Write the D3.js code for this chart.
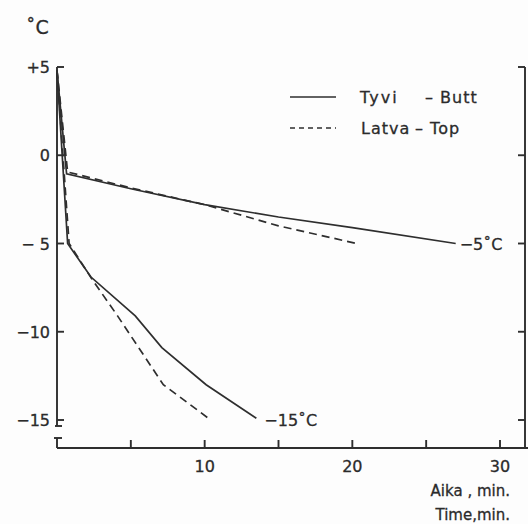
<!DOCTYPE html>
<head>
<meta charset="utf-8">
<style>
body { margin: 0; background: #fdfdfd; }
svg { display: block; }
text {
  font-family: "DejaVu Sans", sans-serif;
  fill: #2b2b2b;
  stroke: #2b2b2b;
  stroke-width: 0.3px;
}
.curve {
  fill: none;
  stroke: #2e2e2e;
  stroke-width: 1.7px;
}
.axis line, .axis path {
  stroke: #2e2e2e;
  stroke-width: 1.9px;
  fill: none;
}
</style>
</head>
<body>
<svg width="528" height="524"></svg>
<script src="https://d3js.org/d3.v7.min.js"></script>
<script>
// minutes / degrees
var butt5 = [[0, 4.8], [0.65, -1.05], [5, -1.9], [10, -2.8], [15, -3.5], [20, -4.1], [27, -5.0]];
var top5 = [[0, 4.8], [0.72, -0.95], [5, -1.85], [10, -2.8], [15, -4.0], [20.3, -5.0]];
var butt15 = [[0, 4.8], [0.72, -5.0], [2.3, -6.9], [5.3, -9.1], [7.1, -10.9], [10.1, -13.0], [13.5, -14.9]];
var top15 = [[0, 4.8], [0.82, -5.0], [2.35, -7.0], [4.1, -9.1], [7.2, -13.0], [10.25, -14.9]];

var yTicks = [5, 0, -5, -10, -15];
var yTickLabels = ["+5", "0", "\u2212 5", "\u221210", "\u221215"];
var xTicks = [5, 10, 15, 20, 25, 30];
var xTickLabels = {10: "10", 20: "20", 30: "30"};

var svg = d3.select("svg");

var x = d3.scaleLinear().domain([0, 30]).range([57, 500]);
var y = d3.scaleLinear().domain([-15, 5]).range([420, 67]);

var ax = svg.append("g").attr("class", "axis");

// left axis with top cap and inward ticks
ax.append("line").attr("x1", x(0)).attr("x2", x(0)).attr("y1", y(5)).attr("y2", y(-15) + 6);
ax.append("line").attr("x1", x(0)).attr("x2", x(0) + 7).attr("y1", y(5)).attr("y2", y(5));
ax.selectAll(".yt").data(yTicks.slice(1)).enter().append("line")
  .attr("x1", x(0)).attr("x2", x(0) + 7)
  .attr("y1", function(d) { return y(d); }).attr("y2", function(d) { return y(d); });
ax.append("line").attr("x1", x(0) - 2).attr("x2", x(0) + 5).attr("y1", y(-15) + 6).attr("y2", y(-15) + 6);

// right frame line
var xr = 525;
ax.append("line").attr("x1", xr).attr("x2", xr).attr("y1", y(5)).attr("y2", 448);
ax.append("line").attr("x1", xr - 7).attr("x2", xr).attr("y1", y(5)).attr("y2", y(5));
ax.selectAll(".yr").data(yTicks.slice(1)).enter().append("line")
  .attr("x1", xr - 7).attr("x2", xr)
  .attr("y1", function(d) { return y(d); }).attr("y2", function(d) { return y(d); });

// bottom axis, drawn apart from the left one
var yb = 448;
ax.append("line").attr("x1", x(0)).attr("x2", 528).attr("y1", yb).attr("y2", yb);
ax.append("line").attr("x1", x(0)).attr("x2", x(0)).attr("y1", yb - 10).attr("y2", yb);
ax.append("line").attr("x1", x(0) - 3).attr("x2", x(0) + 5).attr("y1", yb - 10).attr("y2", yb - 10);
ax.selectAll(".xt").data(xTicks).enter().append("line")
  .attr("x1", function(d) { return x(d); }).attr("x2", function(d) { return x(d); })
  .attr("y1", yb - 8).attr("y2", yb);

// tick labels
svg.selectAll(".ylab").data(yTicks).enter().append("text")
  .attr("x", 50).attr("y", function(d) { return y(d) + 6; })
  .attr("text-anchor", "end").style("font-size", "16px")
  .text(function(d, i) { return yTickLabels[i]; });
svg.selectAll(".xlab").data(xTicks.filter(function(d) { return xTickLabels[d]; })).enter().append("text")
  .attr("x", function(d) { return x(d); }).attr("y", 472)
  .attr("text-anchor", "middle").style("font-size", "16px")
  .text(function(d) { return xTickLabels[d]; });

// axis titles
svg.append("text").attr("x", 26).attr("y", 34).style("font-size", "19px").text("\u02DAC");
svg.append("text").attr("x", 510).attr("y", 496).attr("text-anchor", "end").style("font-size", "15px").text("Aika , min.");
svg.append("text").attr("x", 510).attr("y", 520).attr("text-anchor", "end").style("font-size", "15px").text("Time,min.");

// curves
var line = d3.line().x(function(d) { return x(d[0]); }).y(function(d) { return y(d[1]); });
[butt5, butt15].forEach(function(s) {
  svg.append("path").attr("class", "curve").attr("d", line(s));
});
[top5, top15].forEach(function(s) {
  svg.append("path").attr("class", "curve").attr("d", line(s)).style("stroke-dasharray", "8,5");
});

// end labels
svg.append("text").attr("x", x(27) + 4).attr("y", y(-5) + 6).style("font-size", "16px").text("\u22125\u02DAC");
svg.append("text").attr("x", x(13.5) + 8).attr("y", y(-15) + 6).style("font-size", "16px").text("\u221215\u02DAC");

// legend
var lg = svg.append("g");
lg.append("line").attr("x1", 290).attr("x2", 336).attr("y1", 97).attr("y2", 97).attr("class", "curve");
lg.append("line").attr("x1", 290).attr("x2", 336).attr("y1", 128).attr("y2", 128).attr("class", "curve").style("stroke-dasharray", "5,4");
lg.append("text").attr("x", 360).attr("y", 103).style("font-size", "16px").style("letter-spacing", "2px").text("Tyvi");
lg.append("text").attr("x", 425).attr("y", 103).style("font-size", "16px").style("letter-spacing", "1px").text("\u2013 Butt");
lg.append("text").attr("x", 361).attr("y", 134).style("font-size", "16px").style("letter-spacing", "1px").text("Latva");
lg.append("text").attr("x", 415).attr("y", 134).style("font-size", "16px").style("letter-spacing", "1px").text("\u2013 Top");
</script>
</body>
</html>
